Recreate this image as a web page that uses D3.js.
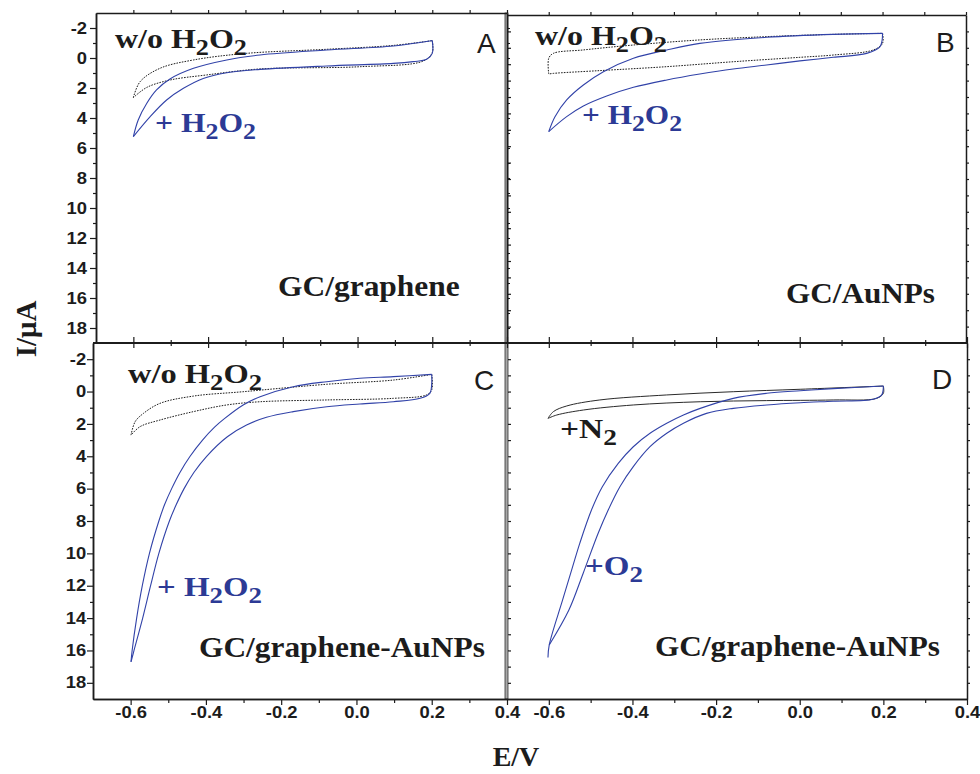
<!DOCTYPE html>
<html>
<head>
<meta charset="utf-8">
<script src="https://cdn.jsdelivr.net/npm/d3@7"></script>
<style>
body { margin: 0; background: #fff; }
svg { display: block; }
.tick text { font-family: "Liberation Sans", Arial, sans-serif; font-weight: bold; font-size: 16px; fill: #1c1c1c; }
</style>
</head>
<body>
<svg id="chart" width="980" height="774"></svg>
<script>
// axis ticks
const xLabels = [-0.6, -0.4, -0.2, 0.0, 0.2, 0.4];
const xMinor = [-0.5, -0.3, -0.1, 0.1, 0.3];
const yLabels = [-2, 0, 2, 4, 6, 8, 10, 12, 14, 16, 18];
const yMinor = [-1, 1, 3, 5, 7, 9, 11, 13, 15, 17];

// E (V), I (uA); "fwd" = sweep -0.6 -> 0.2, "rev" = back
const aBlankFwd = [[-0.6, 2.64], [-0.582, 1.58], [-0.529, 0.69], [-0.439, 0.13], [-0.297, -0.31], [-0.083, -0.58], [0.096, -0.84], [0.2, -1.16]];
const aBlankRev = [[0.2, -1.16], [0.2, -0.36], [0.176, 0.2], [0.007, 0.58], [-0.261, 0.73], [-0.404, 1.13], [-0.502, 1.47], [-0.564, 1.96], [-0.6, 2.64]];
const aH2O2Fwd = [[-0.6, 5.24], [-0.587, 4.13], [-0.564, 3.02], [-0.538, 2.13], [-0.502, 1.4], [-0.439, 0.69], [-0.35, 0.13], [-0.261, -0.2], [-0.083, -0.53], [0.096, -0.8], [0.2, -1.16]];
const aH2O2Rev = [[0.2, -1.16], [0.2, -0.31], [0.185, 0.09], [0.149, 0.24], [0.096, 0.36], [-0.083, 0.53], [-0.261, 0.76], [-0.35, 0.98], [-0.413, 1.36], [-0.466, 2.02], [-0.511, 2.8], [-0.555, 3.91], [-0.6, 5.24]];

const bBlankFwd = [[-0.6, 1.6], [-0.6, 0.64], [-0.589, 0.34], [-0.517, 0.13], [-0.397, -0.17], [-0.238, -0.48], [-0.078, -0.68], [0.082, -0.82], [0.2, -0.88]];
const bBlankRev = [[0.2, -0.88], [0.2, -0.27], [0.178, 0.13], [0.082, 0.44], [0.002, 0.58], [-0.158, 0.85], [-0.317, 1.15], [-0.477, 1.39], [-0.589, 1.56], [-0.6, 1.6]];
const bH2O2Fwd = [[-0.6, 5.11], [-0.585, 4.2], [-0.557, 3.18], [-0.517, 2.27], [-0.469, 1.46], [-0.397, 0.64], [-0.317, 0.13], [-0.238, -0.27], [-0.078, -0.64], [0.082, -0.82], [0.2, -0.88]];
const bH2O2Rev = [[0.2, -0.88], [0.194, -0.07], [0.162, 0.34], [0.082, 0.58], [0.002, 0.8], [-0.078, 1.05], [-0.158, 1.29], [-0.238, 1.6], [-0.317, 1.96], [-0.397, 2.41], [-0.461, 2.94], [-0.517, 3.55], [-0.557, 4.2], [-0.6, 5.11]];

const cBlankFwd = [[-0.599, 2.69], [-0.588, 1.86], [-0.566, 1.35], [-0.522, 0.73], [-0.433, 0.28], [-0.301, 0.01], [-0.079, -0.45], [0.098, -0.71], [0.2, -1.06]];
const cBlankRev = [[0.2, -1.06], [0.2, -0.1], [0.186, 0.21], [0.098, 0.42], [-0.079, 0.52], [-0.256, 0.63], [-0.345, 0.83], [-0.433, 1.24], [-0.522, 1.76], [-0.575, 2.17], [-0.599, 2.69]];
const cH2O2Fwd = [[-0.599, 16.7], [-0.596, 16.0], [-0.584, 14.0], [-0.569, 12.0], [-0.55, 10.0], [-0.525, 8.0], [-0.51, 7.0], [-0.491, 6.0], [-0.469, 5.0], [-0.442, 4.0], [-0.409, 3.0], [-0.377, 2.2], [-0.35, 1.66], [-0.301, 0.83], [-0.256, 0.32], [-0.168, -0.3], [-0.079, -0.61], [0.009, -0.82], [0.098, -0.92], [0.2, -1.06]];
const cH2O2Rev = [[0.2, -1.06], [0.2, -0.51], [0.195, 0.11], [0.169, 0.42], [0.098, 0.63], [0.009, 0.77], [-0.079, 0.94], [-0.168, 1.24], [-0.239, 1.59], [-0.292, 2.07], [-0.343, 2.79], [-0.398, 4.0], [-0.432, 5.0], [-0.458, 6.0], [-0.479, 7.0], [-0.497, 8.0], [-0.525, 10.0], [-0.547, 12.0], [-0.568, 14.0], [-0.591, 16.0], [-0.599, 16.7]];

const dN2Fwd = [[-0.602, 1.66], [-0.589, 1.24], [-0.557, 0.89], [-0.478, 0.52], [-0.318, 0.21], [-0.159, 0.01], [0.001, -0.14], [0.2, -0.34]];
const dN2Rev = [[0.2, -0.34], [0.2, 0.11], [0.184, 0.42], [0.08, 0.52], [-0.079, 0.56], [-0.238, 0.63], [-0.398, 0.83], [-0.517, 1.14], [-0.581, 1.45], [-0.602, 1.66]];
const dO2Fwd = [[-0.602, 16.43], [-0.599, 15.66], [-0.567, 12.88], [-0.543, 10.82], [-0.526, 9.38], [-0.498, 7.32], [-0.472, 5.88], [-0.434, 4.44], [-0.398, 3.41], [-0.358, 2.58], [-0.318, 1.96], [-0.278, 1.45], [-0.238, 1.04], [-0.159, 0.42], [-0.079, 0.11], [0.001, -0.05], [0.08, -0.18], [0.2, -0.34]];
const dO2Rev = [[0.2, -0.34], [0.196, 0.21], [0.176, 0.48], [0.08, 0.6], [0.001, 0.69], [-0.079, 0.83], [-0.159, 1.04], [-0.223, 1.35], [-0.278, 1.96], [-0.318, 2.58], [-0.358, 3.41], [-0.398, 4.64], [-0.43, 5.88], [-0.458, 7.32], [-0.482, 8.76], [-0.518, 11.24], [-0.552, 13.5], [-0.599, 15.66]];

const ink = "#1c1c1c";
const blueLine = "#3142a8";
const blueText = "#2c3a95";
const serif = '"Liberation Serif", "Times New Roman", serif';
const sans = '"Liberation Sans", Arial, sans-serif';

const svg = d3.select("#chart");

// one scale pair per panel
const eDomain = [-0.7, 0.4];
const A = { x: d3.scaleLinear().domain(eDomain).range([96, 507]), y: d3.scaleLinear().domain([-3, 19]).range([13, 343]) };
const B = { x: d3.scaleLinear().domain(eDomain).range([507, 966]), y: d3.scaleLinear().domain([-2, 18]).range([15, 343]) };
const C = { x: d3.scaleLinear().domain(eDomain).range([93, 507]), y: d3.scaleLinear().domain([-3, 19]).range([343, 699]) };
const D = { x: d3.scaleLinear().domain(eDomain).range([507, 967]), y: d3.scaleLinear().domain([-3, 19]).range([343, 699]) };

// gray double line between left and right panels
svg.append("rect")
    .attr("x", A.x.range()[1] - 2).attr("y", A.y.range()[0])
    .attr("width", 3).attr("height", C.y.range()[1] - A.y.range()[0])
    .attr("fill", "#a8a8a8").attr("stroke", "#333").attr("stroke-width", 0.8);

function axis(fn, scale, values, size, tx, ty, fmt) {
    const ax = fn(scale).tickValues(values).tickSize(size).tickSizeOuter(0).tickPadding(2);
    ax.tickFormat(fmt || "");
    const g = svg.append("g").attr("transform", `translate(${tx},${ty})`).call(ax);
    g.select(".domain").attr("stroke", ink).attr("stroke-width", 1.5);
    g.selectAll(".tick line").attr("stroke", ink).attr("stroke-width", 1.2);
    return g;
}

const fmtY = d => String(d);
const fmtX = d => d.toFixed(1);
const allX = xLabels.concat(xMinor);
const intsA = yLabels.concat(yMinor);
const intsB = d3.range(-1, 18);

// panel A frame and ticks
axis(d3.axisLeft, A.y, yLabels, 6, 96, 0, fmtY).selectAll(".tick text").attr("x", -7.8).attr("transform", "scale(1.15,1)");
axis(d3.axisLeft, A.y, yMinor, 3, 96, 0);
axis(d3.axisTop, A.x, allX, 3, 0, 13);
axis(d3.axisRight, A.y, intsA, 3, 507, 0);

// panel B frame and ticks
axis(d3.axisTop, B.x, allX, 3, 0, 15);
axis(d3.axisRight, B.y, intsB, 3, 966, 0);
axis(d3.axisRight, B.y, intsB, 3, 508, 0).select(".domain").remove();

// middle line with crossing ticks
svg.append("line")
    .attr("x1", C.x.range()[0]).attr("x2", D.x.range()[1])
    .attr("y1", A.y.range()[1]).attr("y2", A.y.range()[1])
    .attr("stroke", ink).attr("stroke-width", 2);
[A, D].forEach(p => {
    axis(d3.axisTop, p.x, xLabels, 6, 0, 343).select(".domain").remove();
    axis(d3.axisBottom, p.x, xLabels, 5, 0, 343).select(".domain").remove();
    axis(d3.axisTop, p.x, xMinor, 3, 0, 343).select(".domain").remove();
    axis(d3.axisBottom, p.x, xMinor, 3, 0, 343).select(".domain").remove();
});

// panel C
axis(d3.axisLeft, C.y, yLabels, 6, 93, 0, fmtY).selectAll(".tick text").attr("x", -6).attr("transform", "scale(1.15,1)");
axis(d3.axisLeft, C.y, yMinor, 3, 93, 0);
axis(d3.axisBottom, C.x, xLabels, 6, 0, 699, fmtX).selectAll(".tick text").attr("transform", "scale(1.15,1)");
axis(d3.axisBottom, C.x, xMinor, 4, 0, 699);

// panel D
axis(d3.axisBottom, D.x, xLabels, 6, 0, 699, fmtX).selectAll(".tick text").attr("transform", "scale(1.15,1)");
axis(d3.axisBottom, D.x, xMinor, 4, 0, 699);
axis(d3.axisRight, D.y, intsA, 3, 967, 0);
axis(d3.axisRight, D.y, intsA, 3, 508, 0).select(".domain").remove();

// voltammograms
function trace(p, pts, color, dash, width) {
    const line = d3.line()
        .x(d => p.x(d[0]))
        .y(d => p.y(d[1]))
        .curve(d3.curveCatmullRom.alpha(0.5));
    svg.append("path")
        .attr("d", line(pts))
        .attr("fill", "none")
        .attr("stroke", color)
        .attr("stroke-width", width || 1.1)
        .attr("stroke-dasharray", dash || null);
}

const dotted = "1.6,1.2";
trace(A, aBlankFwd, ink, dotted, 1);
trace(A, aBlankRev, ink, dotted, 1);
trace(A, aH2O2Fwd, blueLine);
trace(A, aH2O2Rev, blueLine);
trace(B, bBlankFwd, ink, dotted, 1);
trace(B, bBlankRev, ink, dotted, 1);
trace(B, bH2O2Fwd, blueLine);
trace(B, bH2O2Rev, blueLine);
trace(C, cBlankFwd, ink, dotted, 1);
trace(C, cBlankRev, ink, dotted, 1);
trace(C, cH2O2Fwd, blueLine);
trace(C, cH2O2Rev, blueLine);
trace(D, dN2Fwd, "#2a2a2a", null, 1);
trace(D, dN2Rev, "#2a2a2a", null, 1);
trace(D, dO2Fwd, blueLine);
trace(D, dO2Rev, blueLine);

// labels, "_" marks a subscript
function formula(x, y, parts, size, color, width) {
    const g = svg.append("g");
    const t = g.append("text")
        .attr("font-family", serif).attr("font-weight", "bold")
        .attr("font-size", size).attr("fill", color);
    let low = false;
    parts.forEach(p => {
        const sub = p.startsWith("_");
        let shift = 0;
        if (sub && !low) shift = size * 0.25;
        if (!sub && low) shift = -size * 0.25;
        t.append("tspan")
            .attr("font-size", sub ? size * 0.82 : size)
            .attr("dy", shift || null)
            .text(sub ? p.slice(1) : p);
        low = sub;
    });
    const w = t.node().getBBox().width;
    g.attr("transform", `translate(${x},${y}) scale(${width / w},1)`);
}

function letter(x, y, s) {
    svg.append("text").attr("x", x).attr("y", y)
        .attr("font-family", sans).attr("font-size", 28).attr("fill", ink)
        .text(s);
}

formula(115, 48, ["w/o H", "_2", "O", "_2"], 27, ink, 132);
formula(155, 132, ["+ H", "_2", "O", "_2"], 27, blueText, 101);
formula(278, 296, ["GC/graphene"], 29, ink, 182);
letter(477, 53, "A");

formula(535, 45, ["w/o H", "_2", "O", "_2"], 27, ink, 132);
formula(582, 124, ["+ H", "_2", "O", "_2"], 27, blueText, 100);
formula(786, 303, ["GC/AuNPs"], 29, ink, 149);
letter(936, 52, "B");

formula(128, 383, ["w/o H", "_2", "O", "_2"], 27, ink, 134);
formula(157, 596, ["+ H", "_2", "O", "_2"], 27, blueText, 105);
formula(199, 657, ["GC/graphene-AuNPs"], 29, ink, 286);
letter(474, 390, "C");

formula(560, 438, ["+N", "_2"], 27, ink, 57);
formula(585, 575, ["+O", "_2"], 27, blueText, 58);
formula(655, 656, ["GC/graphene-AuNPs"], 29, ink, 285);
letter(932, 389, "D");

// axis titles
svg.append("text")
    .attr("transform", "translate(36,329) rotate(-90)")
    .attr("text-anchor", "middle")
    .attr("font-family", serif).attr("font-weight", "bold").attr("font-size", 29)
    .attr("fill", ink)
    .text("I/μA");
svg.append("text")
    .attr("x", 516).attr("y", 766)
    .attr("text-anchor", "middle")
    .attr("font-family", serif).attr("font-weight", "bold").attr("font-size", 28)
    .attr("fill", ink)
    .text("E/V");
</script>
</body>
</html>
